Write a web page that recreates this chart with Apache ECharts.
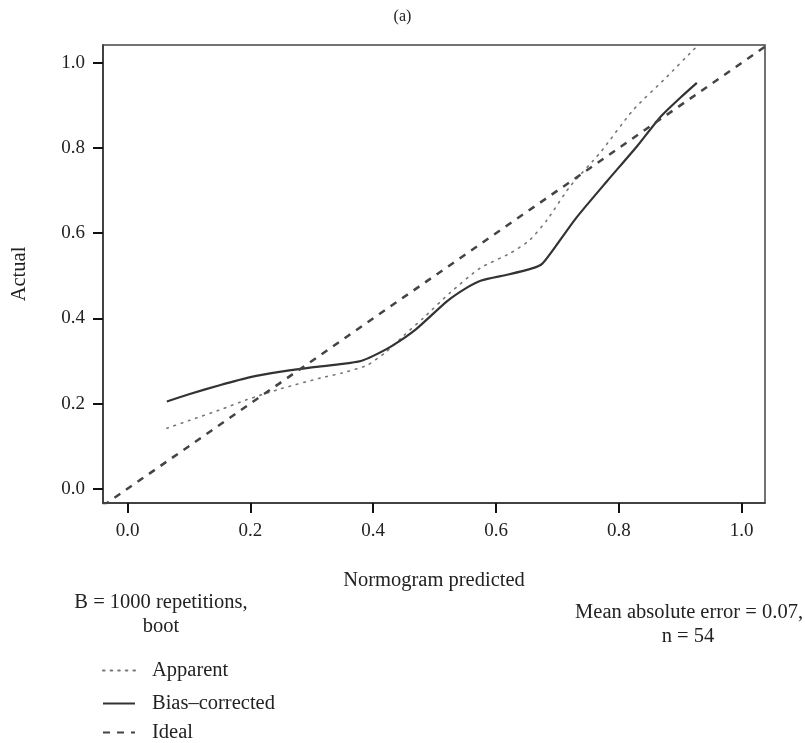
<!DOCTYPE html>
<html>
<head>
<meta charset="utf-8">
<script src="https://cdn.jsdelivr.net/npm/echarts@6/dist/echarts.min.js"></script>
<style>html,body{margin:0;padding:0;background:#fff}#c{width:805px;height:743px}</style>
</head>
<body>
<div id="c"></div>
<script>
// ---- data ----
const tickValues = [0, 0.2, 0.4, 0.6, 0.8, 1.0];
const apparentX = [0.064, 0.10, 0.15, 0.194, 0.25, 0.314, 0.35, 0.39, 0.42, 0.45, 0.481, 0.525, 0.574, 0.623, 0.655, 0.683, 0.72, 0.769, 0.823, 0.878, 0.921, 0.94];
const apparentY = [0.142, 0.160, 0.185, 0.209, 0.235, 0.260, 0.272, 0.290, 0.320, 0.360, 0.400, 0.460, 0.518, 0.553, 0.584, 0.631, 0.709, 0.788, 0.889, 0.967, 1.030, 1.055];
const biasX = [0.064, 0.10, 0.15, 0.20, 0.25, 0.30, 0.35, 0.38, 0.40, 0.43, 0.47, 0.52, 0.55, 0.576, 0.62, 0.66, 0.675, 0.69, 0.73, 0.78, 0.83, 0.867, 0.90, 0.927];
const biasY = [0.205, 0.222, 0.243, 0.262, 0.275, 0.285, 0.293, 0.300, 0.312, 0.335, 0.375, 0.440, 0.470, 0.489, 0.503, 0.518, 0.528, 0.555, 0.635, 0.721, 0.805, 0.872, 0.918, 0.953];
const idealX = [-0.04, 1.04];
const idealY = [-0.04, 1.04];
const seriesNames = ['Apparent', 'Bias\u2013corrected', 'Ideal'];

const zip = (a, b) => a.map((v, i) => [v, b[i]]);
const FONT = 'Liberation Serif';
const TXT = '20.5px "Liberation Serif"';
const legendCenters = [670, 703, 732];

const chart = echarts.init(document.getElementById('c'), null, {renderer: 'canvas'});
chart.setOption({
  backgroundColor: '#ffffff',
  animation: false,
  textStyle: {fontFamily: FONT, color: '#222'},
  title: {
    text: '(a)', left: 'center', top: 4,
    textStyle: {fontFamily: FONT, fontSize: 16, fontWeight: 'normal', color: '#222'}
  },
  grid: {
    left: 103, right: 40, top: 45, bottom: 240,
    show: true, borderColor: '#444', borderWidth: 1.5, backgroundColor: 'transparent'
  },
  xAxis: {
    type: 'value', min: -0.04, max: 1.038,
    name: 'Normogram predicted', nameLocation: 'middle', nameGap: 67,
    nameTextStyle: {fontFamily: FONT, fontSize: 20.5, color: '#222'},
    axisLine: {show: true, onZero: false, lineStyle: {color: '#333', width: 1.5}},
    axisTick: {show: true, length: 10, customValues: tickValues, lineStyle: {color: '#111', width: 2}},
    axisLabel: {customValues: tickValues, margin: 19, fontFamily: FONT, fontSize: 19, color: '#222',
      formatter: v => v.toFixed(1)},
    splitLine: {show: false}
  },
  yAxis: {
    type: 'value', min: -0.0335, max: 1.042,
    name: 'Actual', nameLocation: 'middle', nameGap: 73,
    nameTextStyle: {fontFamily: FONT, fontSize: 20.5, color: '#222'},
    axisLine: {show: true, onZero: false, lineStyle: {color: '#333', width: 1.5}},
    axisTick: {show: true, length: 10, customValues: tickValues, lineStyle: {color: '#111', width: 2}},
    axisLabel: {customValues: tickValues, margin: 18, fontFamily: FONT, fontSize: 19, color: '#222',
      formatter: v => v.toFixed(1)},
    splitLine: {show: false}
  },
  legend: seriesNames.map((n, i) => ({
    orient: 'vertical', left: 102, top: legendCenters[i] - 10,
    itemWidth: 32, itemHeight: 14, padding: 0,
    itemStyle: {opacity: 0},
    textStyle: {fontFamily: FONT, fontSize: 20.5, color: '#222', lineHeight: 20, padding: [0, 0, 0, 12]},
    data: [{name: n}]
  })),
  graphic: [
    {type: 'text', x: 161, y: 603, style: {text: 'B = 1000 repetitions,', font: TXT, fill: '#222', align: 'center', verticalAlign: 'middle'}},
    {type: 'text', x: 161, y: 627, style: {text: 'boot', font: TXT, fill: '#222', align: 'center', verticalAlign: 'middle'}},
    {type: 'text', x: 803, y: 613, style: {text: 'Mean absolute error = 0.07,', font: TXT, fill: '#222', align: 'right', verticalAlign: 'middle'}},
    {type: 'text', x: 688, y: 637, style: {text: 'n = 54', font: TXT, fill: '#222', align: 'center', verticalAlign: 'middle'}}
  ],
  series: [
    {
      name: seriesNames[0], type: 'line', data: zip(apparentX, apparentY),
      showSymbol: false, symbol: 'none', smooth: 0.2, clip: true,
      lineStyle: {color: '#777', width: 1.6, type: [1.6, 6], cap: 'round'},
      itemStyle: {color: '#777'}
    },
    {
      name: seriesNames[1], type: 'line', data: zip(biasX, biasY),
      showSymbol: false, symbol: 'none', smooth: 0.2, clip: true,
      lineStyle: {color: '#333', width: 2.2, type: 'solid'},
      itemStyle: {color: '#333'}
    },
    {
      name: seriesNames[2], type: 'line', data: zip(idealX, idealY),
      showSymbol: false, symbol: 'none', clip: true,
      lineStyle: {color: '#444', width: 2.5, type: [7, 7]},
      itemStyle: {color: '#444'}
    }
  ]
});
</script>
</body>
</html>
